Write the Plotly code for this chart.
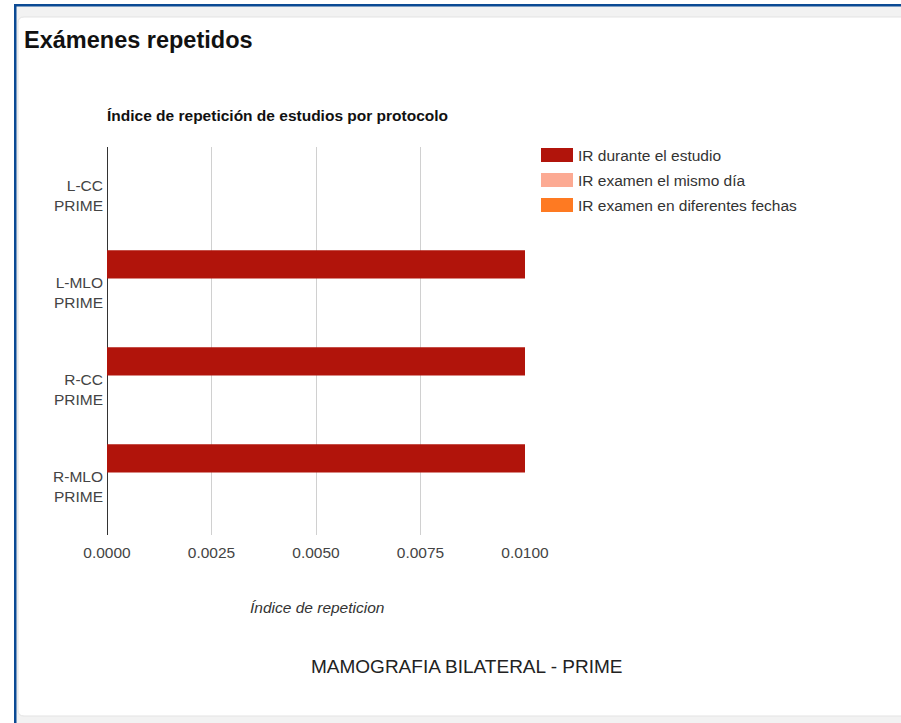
import plotly.graph_objects as go

# Data
protocols = ["L-CC<br>PRIME", "L-MLO<br>PRIME", "R-CC<br>PRIME", "R-MLO<br>PRIME"]
series_names = ["IR durante el estudio", "IR examen el mismo día", "IR examen en diferentes fechas"]
ir_durante = [0.0, 0.01, 0.01, 0.01]
ir_mismo_dia = [0.0, 0.0, 0.0, 0.0]
ir_diferentes_fechas = [0.0, 0.0, 0.0, 0.0]
x_ticks = [0.0, 0.0025, 0.005, 0.0075, 0.01]
x_tick_labels = ["0.0000", "0.0025", "0.0050", "0.0075", "0.0100"]

colors = ["#B1140B", "#FCAA93", "#FE7A22"]
FONT = "Liberation Sans, Arial, sans-serif"

W, H = 901, 723
PL, PR, PT, PB = 107, 525, 147, 535  # plot area in pixels


def px(x):
    return (x - PL) / (PR - PL)


def py(y):
    return (PB - y) / (PB - PT)


fig = go.Figure()
for name, vals, col in zip(series_names, [ir_durante, ir_mismo_dia, ir_diferentes_fechas], colors):
    fig.add_trace(go.Bar(
        y=protocols, x=vals, name=name, orientation="h",
        marker=dict(color=col, line=dict(width=0)),
        showlegend=False,
    ))

shapes = []
# page backdrop and frame
shapes.append(dict(type="rect", xref="paper", yref="paper", layer="below",
                   x0=px(16), x1=px(W + 5), y0=py(H + 5), y1=py(6),
                   fillcolor="#f2f2f2", line=dict(width=0)))
r = 6
x0c, y0c, x1c, y1c = 18, 17, W + 20, 716
path = (f"M {px(x0c + r)},{py(y0c)} L {px(x1c)},{py(y0c)} L {px(x1c)},{py(y1c)} "
        f"L {px(x0c + r)},{py(y1c)} Q {px(x0c)},{py(y1c)} {px(x0c)},{py(y1c - r)} "
        f"L {px(x0c)},{py(y0c + r)} Q {px(x0c)},{py(y0c)} {px(x0c + r)},{py(y0c)} Z")
shapes.append(dict(type="path", xref="paper", yref="paper", layer="below", path=path,
                   fillcolor="white", line=dict(color="#e3e3e3", width=1)))
shapes.append(dict(type="rect", xref="paper", yref="paper", layer="above",
                   x0=px(14), x1=px(16.5), y0=py(H + 5), y1=py(4),
                   fillcolor="#0B4A94", line=dict(width=0)))
shapes.append(dict(type="rect", xref="paper", yref="paper", layer="above",
                   x0=px(14), x1=px(W + 5), y0=py(6.5), y1=py(4),
                   fillcolor="#0B4A94", line=dict(width=0)))

annotations = []
# manual legend
for i, (name, col) in enumerate(zip(series_names, colors)):
    cy = 155 + 25 * i
    shapes.append(dict(type="rect", xref="paper", yref="paper",
                       x0=px(541), x1=px(573), y0=py(cy + 7), y1=py(cy - 7),
                       fillcolor=col, line=dict(width=0)))
    annotations.append(dict(xref="paper", yref="paper", x=px(576), y=py(cy),
                            xanchor="left", yanchor="middle", showarrow=False,
                            text=name, font=dict(family=FONT, size=15.5, color="#333")))

annotations += [
    dict(xref="paper", yref="paper", x=px(22), y=py(40), xanchor="left", yanchor="middle",
         showarrow=False, text="<b>Exámenes repetidos</b>",
         font=dict(family=FONT, size=23.5, color="#111")),
    dict(xref="paper", yref="paper", x=px(105), y=py(115), xanchor="left", yanchor="middle",
         showarrow=False, text="<b>Índice de repetición de estudios por protocolo</b>",
         font=dict(family=FONT, size=15.5, color="#111")),
    dict(xref="paper", yref="paper", x=px(317), y=py(607), xanchor="center", yanchor="middle",
         showarrow=False, text="<i>Índice de repeticion</i>",
         font=dict(family=FONT, size=15.5, color="#333")),
    dict(xref="paper", yref="paper", x=px(466), y=py(666), xanchor="center", yanchor="middle",
         showarrow=False, text="MAMOGRAFIA BILATERAL - PRIME",
         font=dict(family=FONT, size=19, color="#222")),
]

fig.update_layout(
    width=W, height=H,
    margin=dict(l=PL, r=W - PR, t=PT, b=H - PB, pad=0),
    paper_bgcolor="white", plot_bgcolor="rgba(0,0,0,0)",
    barmode="group", bargap=0.13, bargroupgap=0,
    shapes=shapes, annotations=annotations,
    xaxis=dict(range=[0, 0.01], tickvals=x_ticks, ticktext=x_tick_labels,
               showgrid=True, gridcolor="#d0d0d0", gridwidth=1,
               zeroline=True, zerolinecolor="#333", zerolinewidth=1,
               showline=False, ticks="", ticklabelstandoff=6,
               tickfont=dict(family=FONT, size=15.5, color="#444")),
    yaxis=dict(autorange="reversed", showgrid=False, zeroline=False, showline=False,
               ticks="", ticklabelstandoff=3,
               tickfont=dict(family=FONT, size=15.5, color="#444")),
    font=dict(family=FONT),
)

fig.write_html("out.html")
